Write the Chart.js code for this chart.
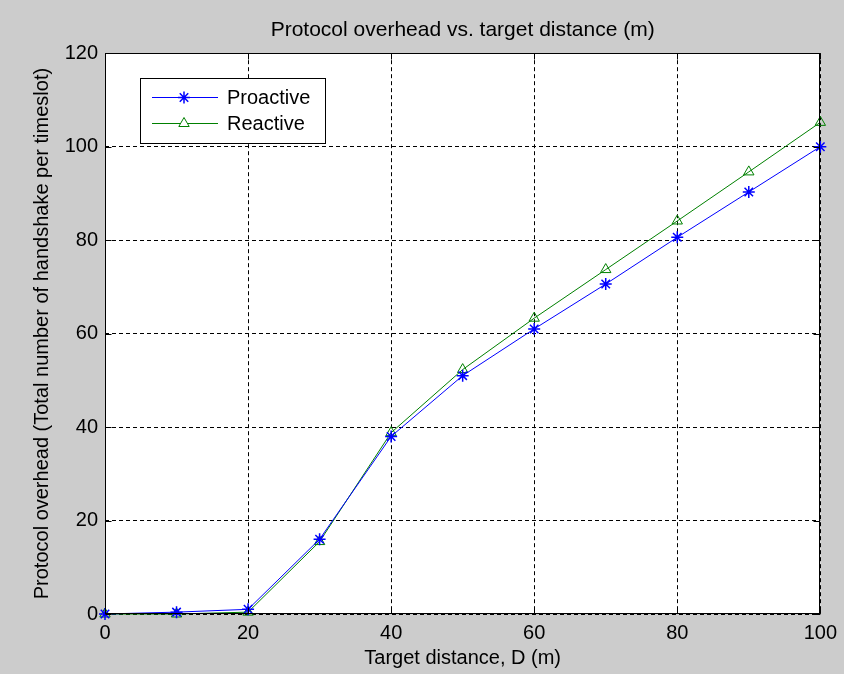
<!DOCTYPE html>
<html>
<head>
<meta charset="utf-8">
<script src="https://cdn.jsdelivr.net/npm/chart.js@4/dist/chart.umd.min.js"></script>
<style>
  html, body { margin: 0; padding: 0; background: #cccccc; }
  #wrap { width: 844px; height: 674px; }
</style>
</head>
<body>
<div id="wrap"><canvas id="c" width="844" height="674"></canvas></div>
<script>
// ---- data ----
const distances = [0, 10, 20, 30, 40, 50, 60, 70, 80, 90, 100];
const proactive = [0, 0.4, 1, 16, 38, 51, 61, 70.6, 80.6, 90.3, 100];
const reactive  = [0, 0, 0.4, 15.5, 38.8, 52.3, 63.3, 73.7, 84.1, 94.6, 105.2];
const seriesNames = ['Proactive', 'Reactive'];
const titleText = 'Protocol overhead vs. target distance (m)';
const xLabel = 'Target distance, D (m)';
const yLabel = 'Protocol overhead (Total number of handshake per timeslot)';
const xTicks = { min: 0, max: 100, step: 20 };
const yTicks = { min: 0, max: 120, step: 20 };

const FONT = '"Liberation Sans", Arial, Helvetica, sans-serif';

const toPoints = (xs, ys) => xs.map((x, i) => ({ x: x, y: ys[i] }));

const bgPlugin = {
  id: 'matlabFrame',
  beforeDraw(chart) {
    const { ctx, chartArea: a } = chart;
    ctx.save();
    ctx.fillStyle = '#cccccc';
    ctx.fillRect(0, 0, chart.width, chart.height);
    ctx.fillStyle = '#ffffff';
    ctx.fillRect(a.left, a.top, a.right - a.left, a.bottom - a.top);
    ctx.restore();
  },
  afterDraw(chart) {
    const { ctx, chartArea: a, scales } = chart;
    ctx.save();
    ctx.strokeStyle = '#000';
    ctx.lineWidth = 1;
    ctx.setLineDash([]);
    const L = Math.round(a.left) + 0.5, R = Math.round(a.right) - 0.5;
    const T = Math.round(a.top) + 0.5, B = Math.round(a.bottom) - 0.5;
    ctx.strokeRect(L, T, R - L, B - T);
    const tl = 6;
    ctx.beginPath();
    scales.x.ticks.forEach(t => {
      const px = Math.round(scales.x.getPixelForValue(t.value)) + 0.5;
      ctx.moveTo(px, B); ctx.lineTo(px, B - tl);
      ctx.moveTo(px, T); ctx.lineTo(px, T + tl);
    });
    scales.y.ticks.forEach(t => {
      const py = Math.round(scales.y.getPixelForValue(t.value)) + 0.5;
      ctx.moveTo(L, py); ctx.lineTo(L + tl, py);
      ctx.moveTo(R, py); ctx.lineTo(R - tl, py);
    });
    ctx.stroke();

    // legend box (MATLAB style)
    const bx = a.left + 35, by = a.top + 25, bw = 185, bh = 65;
    ctx.fillStyle = '#ffffff';
    ctx.fillRect(bx, by, bw, bh);
    ctx.strokeStyle = '#000';
    ctx.strokeRect(Math.round(bx) + 0.5, Math.round(by) + 0.5, bw, bh);
    ctx.font = '20px ' + FONT;
    ctx.textBaseline = 'middle';
    ctx.textAlign = 'left';
    chart.data.datasets.forEach((ds, i) => {
      const yy = Math.round(by + 19 + i * 26) + 0.5;
      ctx.strokeStyle = ds.borderColor;
      ctx.lineWidth = 1;
      ctx.beginPath();
      ctx.moveTo(bx + 12, yy);
      ctx.lineTo(bx + 78, yy);
      ctx.stroke();
      ctx.strokeStyle = ds.pointBorderColor;
      ctx.fillStyle = '#ffffff';
      ctx.lineWidth = ds.pointBorderWidth;
      Chart.helpers.drawPoint(ctx, {
        pointStyle: ds.pointStyle,
        radius: ds.pointRadius,
        rotation: 0,
        borderWidth: ds.pointBorderWidth
      }, bx + 44, yy);
      ctx.fillStyle = '#000';
      ctx.fillText(ds.label, bx + 87, yy + 1);
    });
    ctx.restore();
  }
};

new Chart(document.getElementById('c'), {
  type: 'line',
  data: {
    datasets: [
      {
        label: seriesNames[0],
        data: toPoints(distances, proactive),
        borderColor: '#0000ff',
        backgroundColor: 'rgba(0,0,0,0)',
        pointBorderColor: '#0000ff',
        pointBackgroundColor: 'rgba(0,0,0,0)',
        borderWidth: 1,
        pointStyle: 'star',
        pointRadius: 6,
        pointBorderWidth: 1.5,
        tension: 0,
        clip: false
      },
      {
        label: seriesNames[1],
        data: toPoints(distances, reactive),
        borderColor: '#008000',
        backgroundColor: 'rgba(0,0,0,0)',
        pointBorderColor: '#008000',
        pointBackgroundColor: 'rgba(0,0,0,0)',
        borderWidth: 1,
        pointStyle: 'triangle',
        pointRadius: 6,
        pointBorderWidth: 1,
        tension: 0,
        clip: false
      }
    ]
  },
  options: {
    responsive: false,
    animation: false,
    devicePixelRatio: 1,
    layout: { padding: { left: 0, right: 22, top: 0, bottom: 0 } },
    plugins: {
      legend: { display: false },
      tooltip: { enabled: false },
      title: {
        display: true,
        text: titleText,
        fullSize: false,
        color: '#000',
        font: { family: FONT, size: 21, weight: 'normal' },
        padding: { top: 18, bottom: 10 }
      }
    },
    scales: {
      x: {
        type: 'linear',
        min: xTicks.min,
        max: xTicks.max,
        afterFit(s) { s.height = 60; },
        ticks: {
          stepSize: xTicks.step,
          color: '#000',
          padding: 7,
          maxRotation: 0,
          font: { family: FONT, size: 20 }
        },
        grid: { color: '#000', lineWidth: 1, drawTicks: false },
        border: { display: false, dash: [4, 3] },
        title: {
          display: true,
          text: xLabel,
          color: '#000',
          font: { family: FONT, size: 20 },
          padding: { top: 0, bottom: 4 }
        }
      },
      y: {
        type: 'linear',
        min: yTicks.min,
        max: yTicks.max,
        afterFit(s) { s.width = 105; },
        ticks: {
          stepSize: yTicks.step,
          color: '#000',
          padding: 7,
          font: { family: FONT, size: 20 }
        },
        grid: { color: '#000', lineWidth: 1, drawTicks: false },
        border: { display: false, dash: [4, 3] },
        title: {
          display: true,
          text: yLabel,
          color: '#000',
          font: { family: FONT, size: 20 },
          padding: { top: 30, bottom: 0 }
        }
      }
    }
  },
  plugins: [bgPlugin]
});
</script>
</body>
</html>
